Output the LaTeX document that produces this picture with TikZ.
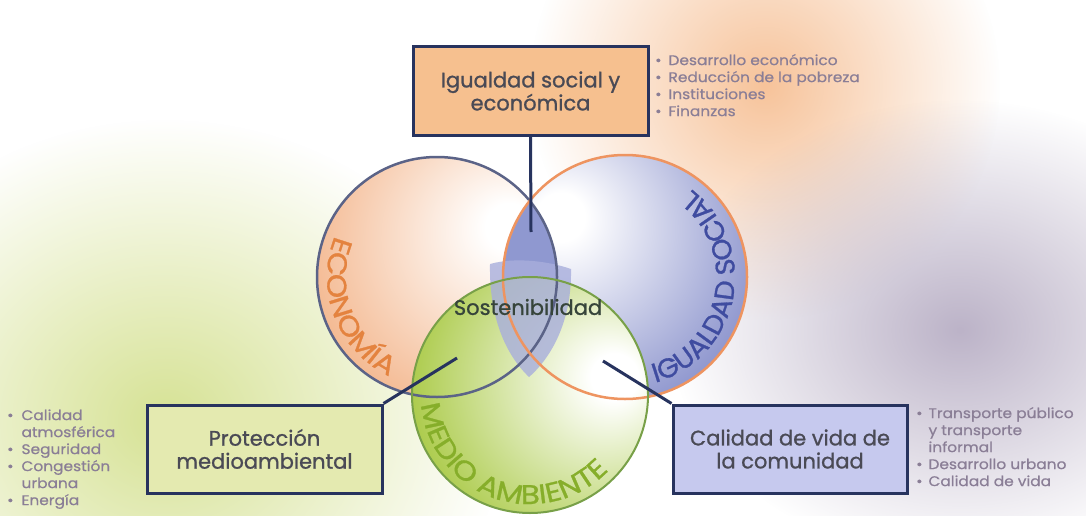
\documentclass[tikz,border=0pt]{standalone}
\usepackage{fontspec}
\setmainfont{Poppins}
\newfontfamily\boxfam{Poppins}[FakeBold=1]
\newfontfamily\listfam{Poppins}[FakeBold=0.6, FakeStretch=1.1]
\newfontfamily\labfam{Poppins}[FakeBold=1, FakeStretch=1.15]
\newfontfamily\labfamB{Poppins}[FakeBold=1, FakeStretch=1.04]
\usetikzlibrary{decorations.text,fadings}
\definecolor{ecoedge}{HTML}{F2AE80}
\definecolor{ecoline}{HTML}{5B6387}
\definecolor{socedge}{HTML}{7C85C6}
\definecolor{socline}{HTML}{EE9460}
\definecolor{envedge}{HTML}{A4C63A}
\definecolor{envline}{HTML}{78A048}
\definecolor{lenscol}{HTML}{8F98D0}
\definecolor{shieldcol}{HTML}{A8AEDC}
\definecolor{navy}{HTML}{27335E}
\definecolor{boxA}{HTML}{F6C08F}
\definecolor{boxB}{HTML}{E4EAB0}
\definecolor{boxC}{HTML}{C6C9EE}
\definecolor{boxtext}{HTML}{4A4A55}
\definecolor{listtext}{HTML}{8A7E96}
\definecolor{ecotext}{HTML}{E4833F}
\definecolor{soctext}{HTML}{3F4CA0}
\definecolor{envtext}{HTML}{86AE2A}
\definecolor{sostext}{HTML}{36443A}
\definecolor{blobA}{HTML}{F7C39A}
\definecolor{blobB}{HTML}{D6E294}
\definecolor{blobC}{HTML}{BCB3C8}
\pgfdeclareradialshading{ecoshade}{\pgfpoint{16bp}{11bp}}{color(0bp)=(white); color(5bp)=(white); color(42bp)=(ecoedge); color(90bp)=(ecoedge)}
\pgfdeclareradialshading{socshade}{\pgfpoint{-14bp}{13bp}}{color(0bp)=(white); color(5bp)=(white); color(42bp)=(socedge); color(90bp)=(socedge)}
\pgfdeclareradialshading{envshade}{\pgfpoint{19bp}{4bp}}{color(0bp)=(white); color(5bp)=(white); color(40bp)=(envedge); color(90bp)=(envedge)}
\tikzfading[name=blobfade, inner color=transparent!0, outer color=transparent!100]
\newcommand\labfont{\labfam\fontsize{27}{27}\selectfont}
\newcommand\labfontB{\labfamB\fontsize{27}{27}\selectfont}
\tikzset{
  box/.style={draw=navy, line width=3pt, align=center, inner sep=0pt,
    minimum height=88pt, text=boxtext, font=\boxfam\fontsize{21}{23}\selectfont},
  conn/.style={draw=navy, line width=3pt},
  listnode/.style={inner sep=0pt, text=listtext, font=\listfam\fontsize{14}{17}\selectfont},
  ring/.style={line width=2.5pt},
}
\begin{document}
\begin{tikzpicture}[x=1pt,y=1pt]
\useasboundingbox (0,0) rectangle (1086,-516);
\fill[white] (0,0) rectangle (1086,-516);
% background blobs
\begin{scope}
\clip (0,0) rectangle (1086,-516);
\fill[blobA, path fading=blobfade] (765,-85) ellipse [x radius=235pt, y radius=235pt];
\fill[blobB, path fading=blobfade] (165,-420) ellipse [x radius=340pt, y radius=300pt];
\fill[blobC, path fading=blobfade] (960,-330) ellipse [x radius=290pt, y radius=230pt];
\end{scope}
% circle centres
\coordinate (eco) at (437,-277);
\coordinate (soc) at (625,-277);
\coordinate (env) at (530,-395);
% fills
\shade[shading=ecoshade] (eco) circle (120pt);
\shade[shading=socshade] (soc) circle (122pt);
\begin{scope}
\clip (eco) circle (120pt);
\fill[lenscol] (soc) circle (122pt);
\end{scope}
\shade[shading=envshade] (env) circle (118pt);
% shield
\fill[shieldcol, opacity=0.8] (490,-264) .. controls (515,-257) and (548,-261) .. (571,-269)
  .. controls (572,-320) and (552,-357) .. (529,-377)
  .. controls (506,-355) and (489,-318) .. (490,-264) -- cycle;
% outlines
\draw[ring, draw=ecoline] (eco) circle (120pt);
\draw[ring, draw=socline] (soc) circle (122pt);
\draw[ring, draw=envline, line width=2pt] (env) circle (118pt);
% curved labels
\path[decorate, decoration={text along path, text color=ecotext, text align=left,
  text={|\labfont|ECONOMÍA}}]
  (eco) ++(158:110pt) arc[start angle=158, end angle=285, radius=110pt];
\path[decorate, decoration={text along path, text color=soctext, text align=left,
  text={|\labfontB|IGUALDAD SOCIAL}}]
  (soc) ++(-74:110pt) arc[start angle=-74, end angle=90, radius=110pt];
\path[decorate, decoration={text along path, text color=envtext, text align=left,
  text={|\labfont|MEDIO AMBIENTE}}]
  (env) ++(185:109pt) arc[start angle=185, end angle=350, radius=109pt];
\node[text=sostext, font=\boxfam\fontsize{21}{21}\selectfont] (sos) at (528,-307) {Sostenibilidad};
% connector ends
\coordinate (c1) at (531,-232);
\coordinate (c2) at (457,-358);
\coordinate (c3) at (603,-361);
% boxes
\node[box, fill=boxA, minimum width=235pt] (b1) at (530.5,-91) {Igualdad social y\\económica};
\node[box, fill=boxB, minimum width=235pt] (b2) at (264.5,-449) {Protección\\medioambiental};
\node[box, fill=boxC, minimum width=234pt] (b3) at (790,-449) {Calidad de vida de\\la comunidad};
\draw[conn] (b1.south) -- (c1);
\draw[conn] (b2.north east) -- (c2);
\draw[conn] (b3.north west) -- (c3);
% lists
\node[listnode, anchor=north west] (l1) at (655,-53) {\begin{tabular}{@{}l@{\hspace{7pt}}l@{}}
• & Desarrollo económico\\ • & Reducción de la pobreza\\ • & Instituciones\\ • & Finanzas
\end{tabular}};
\node[listnode, anchor=north west] (l2) at (7,-408) {\begin{tabular}{@{}l@{\hspace{8pt}}l@{}}
• & Calidad\\ & atmosférica\\ • & Seguridad\\ • & Congestión\\ & urbana\\ • & Energía
\end{tabular}};
\node[listnode, anchor=north west] (l3) at (916,-406) {\begin{tabular}{@{}l@{\hspace{6pt}}l@{}}
• & Transporte público\\ & y transporte\\ & informal\\ • & Desarrollo urbano\\ • & Calidad de vida
\end{tabular}};
\end{tikzpicture}
\end{document}
